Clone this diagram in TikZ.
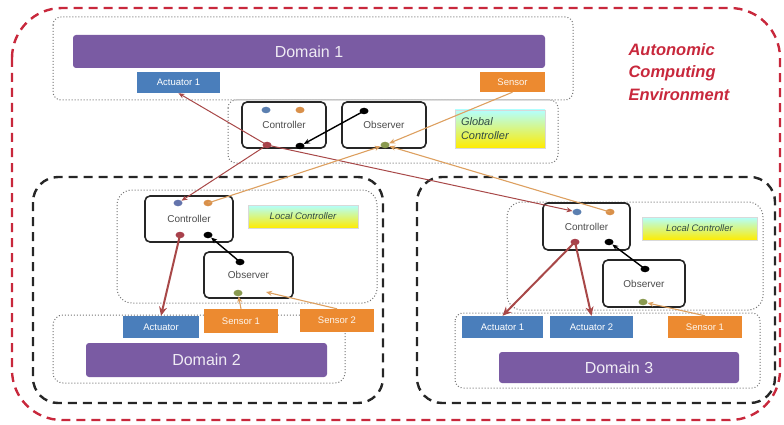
\documentclass[tikz,border=0pt]{standalone}
\usepackage{fontspec}
\setmainfont{Liberation Sans}
\usetikzlibrary{arrows.meta,shapes.geometric}
\definecolor{purp}{HTML}{7A5BA3}
\definecolor{actb}{HTML}{4A7EBB}
\definecolor{sens}{HTML}{EC8A30}
\definecolor{envred}{HTML}{C8283C}
\definecolor{redln}{HTML}{A84848}
\definecolor{orln}{HTML}{DDA060}
\definecolor{dotblue}{HTML}{5B7FB0}
\definecolor{dotor}{HTML}{D9904A}
\definecolor{dotred}{HTML}{A8404C}
\definecolor{dotol}{HTML}{8A9A50}
\definecolor{lbltext}{HTML}{2F4A45}
\tikzset{
 domainbox/.style={fill=purp, rounded corners=3pt, text=white!88!purp, font=\fontsize{16}{18}\selectfont, inner sep=0pt},
 actbox/.style={fill=actb, text=white, font=\fontsize{9.5}{11}\selectfont, inner sep=0pt},
 sensbox/.style={fill=sens, text=white!92!sens, font=\fontsize{9.5}{11}\selectfont, inner sep=0pt},
 unitbox/.style={draw=black!85, line width=1.6pt, rounded corners=5pt, fill=white, font=\fontsize{10}{12}\selectfont, text=black!70, inner sep=0pt},
 lblbox/.style={top color=cyan!30, bottom color=yellow!85!orange, draw=black!15, font=\itshape\fontsize{9.5}{12}\selectfont, text=lbltext, inner sep=0pt, align=left},
 portdot/.style={ellipse, minimum width=9pt, minimum height=6.5pt, inner sep=0pt},
 envbox/.style={draw=envred, line width=2.4pt, dash pattern=on 9pt off 6pt, rounded corners=50pt},
 locbox/.style={draw=black!85, line width=2.4pt, dash pattern=on 9pt off 6pt, rounded corners=25pt},
 dotbox/.style={draw=black!55, line width=1pt, dash pattern=on 1pt off 2pt},
 redarrow/.style={draw=redln, line width=1pt, -{Stealth[length=6pt,width=5pt]}},
 thickred/.style={draw=redln, line width=2pt, -{Stealth[length=9pt,width=8pt]}},
 orarrow/.style={draw=orln, line width=1.1pt, -{Stealth[length=6pt,width=5pt]}},
 blkarrow/.style={draw=black, line width=1.4pt, -{Stealth[length=6pt,width=5pt]}},
}
\begin{document}
\begin{tikzpicture}[x=1pt,y=-1pt]
\useasboundingbox (0,0) rectangle (784,425);
% containers
\draw[envbox] (12,8) rectangle (780,420);
\draw[dotbox, rounded corners=8pt] (53,17) rectangle (573,100);
\draw[dotbox, rounded corners=8pt] (228,100) rectangle (558,163);
\draw[locbox] (33,177) rectangle (383,403);
\draw[dotbox, rounded corners=15pt] (117,190) rectangle (377,303);
\draw[dotbox, rounded corners=10pt] (53,315) rectangle (345,383);
\draw[locbox] (417,177) rectangle (775,403);
\draw[dotbox, rounded corners=15pt] (507,202) rectangle (763,310);
\draw[dotbox, rounded corners=8pt] (455,313) rectangle (760,388);

\node[anchor=north west, align=left, text=envred, font=\bfseries\itshape\fontsize{16.5}{22.5}\selectfont] (envlbl) at (625,40) {Autonomic\\Computing\\Environment};

% Domain 1
\node[domainbox, minimum width=472pt, minimum height=33pt] (dom1) at (309,51.5) {Domain 1};
\node[actbox, minimum width=83pt, minimum height=21pt] (act1a) at (178.5,82.5) {Actuator 1};
\node[sensbox, minimum width=65pt, minimum height=20pt] (sensa) at (512.5,82) {Sensor};

% Global controller
\node[unitbox, minimum width=84pt, minimum height=46pt] (gctl) at (284,125) {Controller};
\node[unitbox, minimum width=84pt, minimum height=46pt] (gobs) at (384,125) {Observer};
\node[lblbox, minimum width=90pt, minimum height=38pt, text width=78pt, font=\itshape\fontsize{11}{14}\selectfont] (glbl) at (500,129) {Global\\Controller};
\node[portdot, fill=dotblue] (gcb) at (266,110) {};
\node[portdot, fill=dotor] (gco) at (300,110) {};
\node[portdot, fill=dotred] (gcr) at (267,145) {};
\node[portdot, fill=black] (gck) at (300,146) {};
\node[portdot, fill=black] (gok) at (364,111) {};
\node[portdot, fill=dotol] (goo) at (385,145) {};

% Local controller 2
\node[unitbox, minimum width=88pt, minimum height=46pt] (lc2) at (189,219) {Controller};
\node[unitbox, minimum width=89pt, minimum height=46pt] (ob2) at (248.5,275) {Observer};
\node[lblbox, minimum width=110pt, minimum height=23pt] (l2lbl) at (303,216.5) {Local Controller};
\node[portdot, fill=dotblue!70!purp] (l2b) at (178,203) {};
\node[portdot, fill=dotor] (l2o) at (208,203) {};
\node[portdot, fill=dotred] (l2r) at (180,235) {};
\node[portdot, fill=black] (l2k) at (208,235) {};
\node[portdot, fill=black] (o2k) at (240,262) {};
\node[portdot, fill=dotol] (o2o) at (238,293) {};
\coordinate (o2in) at (266,292);

% Domain 2
\node[actbox, minimum width=76pt, minimum height=22pt] (act2) at (161,327) {Actuator};
\node[sensbox, minimum width=74pt, minimum height=24pt] (s21) at (241,321) {Sensor 1};
\node[sensbox, minimum width=74pt, minimum height=23pt] (s22) at (337,320.5) {Sensor 2};
\node[domainbox, minimum width=241pt, minimum height=34pt] (dom2) at (206.5,360) {Domain 2};

% Local controller 3
\node[unitbox, minimum width=87pt, minimum height=47pt] (lc3) at (586.5,226.5) {Controller};
\node[unitbox, minimum width=82pt, minimum height=47pt] (ob3) at (644,283.5) {Observer};
\node[lblbox, minimum width=115pt, minimum height=23pt] (l3lbl) at (699.5,228.5) {Local Controller};
\node[portdot, fill=dotblue] (l3b) at (577,212) {};
\node[portdot, fill=dotor] (l3o) at (610,212) {};
\node[portdot, fill=dotred] (l3r) at (575,242) {};
\node[portdot, fill=black] (l3k) at (609,242) {};
\node[portdot, fill=black] (o3k) at (645,269) {};
\node[portdot, fill=dotol] (o3o) at (643,302) {};

% Domain 3
\node[actbox, minimum width=81pt, minimum height=22pt] (act31) at (502.5,327) {Actuator 1};
\node[actbox, minimum width=83pt, minimum height=22pt] (act32) at (591.5,327) {Actuator 2};
\node[sensbox, minimum width=74pt, minimum height=22pt] (s31) at (705,327) {Sensor 1};
\node[domainbox, minimum width=240pt, minimum height=31pt] (dom3) at (619,367.5) {Domain 3};

% global connectors
\draw[blkarrow] (gok.center) -- (gck);
\draw[redarrow] (gcr.center) -- (act1a.south);
\draw[redarrow] (gcr.center) -- (l2b);
\draw[redarrow] (gcr.center) -- (l3b);
\draw[orarrow] (sensa.south) -- (goo);
\draw[orarrow] (l2o.center) -- (goo);
\draw[orarrow] (l3o.center) -- (goo);

% local 2 connectors
\draw[thickred] (l2r.center) -- (act2.north);
\draw[blkarrow] (o2k.center) -- (l2k);
\draw[orarrow] (s21.north) -- (o2o);
\draw[orarrow] (s22.north) -- (o2in);

% local 3 connectors
\draw[thickred] (l3r.center) -- (act31.north);
\draw[thickred] (l3r.center) -- (act32.north);
\draw[blkarrow] (o3k.center) -- (l3k);
\draw[orarrow] (s31.north) -- (o3o);
\end{tikzpicture}
\end{document}
